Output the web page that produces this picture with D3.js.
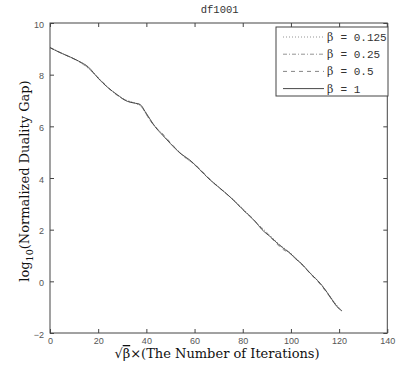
<!DOCTYPE html>
<html><head><meta charset="utf-8">
<script src="https://cdn.jsdelivr.net/npm/d3@7"></script>
<style>body{margin:0;background:#fff}svg{display:block}</style>
</head><body>
<svg id="c" width="398" height="372"></svg>
<script>
const title = "df1001";
const xTicks = [0,20,40,60,80,100,120,140];
const yTicks = [-2,0,2,4,6,8,10];
const legendLabels = ["0.125","0.25","0.5","1"];

const it0125 = [0,5,10,15,20,25,30,35,38,40,42,45,50,55,60,65,70,75,80,85,90,95,100,105,110,115,118,121];
const gap0125 = [9.05,8.83,8.61,8.35,7.88,7.43,7.08,6.91,6.75,6.50,6.20,5.85,5.35,4.90,4.54,4.07,3.66,3.25,2.82,2.33,1.90,1.45,1.08,0.62,0.14,-0.42,-0.80,-1.12];
const it025 = [0,6,12,18,22,26,30,33,36,38,40,42,44,46,50,55,60,65,70,75,80,85,90,95,100,105,110,114,117,120];
const gap025 = [9.05,8.78,8.51,8.07,7.70,7.35,7.08,6.95,6.88,6.76,6.46,6.17,5.94,5.78,5.34,4.88,4.51,4.05,3.65,3.24,2.80,2.34,1.87,1.43,1.07,0.60,0.12,-0.30,-0.72,-1.05];
const it05 = [0,5,10,15,20,25,30,34,37,39,41,43,45,48,52,56,60,64,68,72,76,80,84,88,92,96,100,104,108,112,116,119,121.5];
const gap05 = [9.04,8.82,8.60,8.33,7.87,7.42,7.07,6.92,6.86,6.62,6.31,6.05,5.86,5.58,5.16,4.80,4.53,4.18,3.80,3.48,3.16,2.77,2.45,2.02,1.66,1.28,1.05,0.70,0.30,-0.10,-0.58,-0.95,-1.18];
const it1 = [0,4,8,12,16,20,24,28,32,35,37.5,39.5,41.5,43.6,47,50,54,58,62,66.5,70.6,74,78.9,82,85.2,88,91.4,95,98,100,101.8,104,108,112.2,116.3,119.1,121.2];
const gap1 = [9.05,8.86,8.70,8.52,8.29,7.86,7.50,7.22,6.97,6.90,6.84,6.57,6.28,5.99,5.63,5.33,4.96,4.70,4.34,3.92,3.60,3.33,2.89,2.60,2.31,2.00,1.73,1.42,1.20,1.06,0.88,0.72,0.31,-0.08,-0.60,-0.98,-1.15];

const series = [
  {label: legendLabels[0], xs: it0125, ys: gap0125, dash: "1,2", color: "#888"},
  {label: legendLabels[1], xs: it025, ys: gap025, dash: "4,2,1,2", color: "#888"},
  {label: legendLabels[2], xs: it05, ys: gap05, dash: "4,4", color: "#777"},
  {label: legendLabels[3], xs: it1, ys: gap1, dash: null, color: "#333"}
];

const L = 50, R = 387.3, T = 23, B = 333;
const svg = d3.select("#c");
const x = d3.scaleLinear().domain([0,140]).range([L,R]);
const y = d3.scaleLinear().domain([-2,10]).range([B,T]);
const axisColor = "#444";

svg.append("rect").attr("x",L).attr("y",T).attr("width",R-L).attr("height",B-T)
  .attr("fill","none").attr("stroke",axisColor).attr("stroke-width",1);

const tickLen = 4;
const gx = svg.append("g").attr("transform",`translate(0,${B})`)
  .call(d3.axisBottom(x).tickValues(xTicks).tickSize(-tickLen).tickPadding(5).tickFormat(d3.format("d")));
const gxt = svg.append("g").attr("transform",`translate(0,${T})`)
  .call(d3.axisTop(x).tickValues(xTicks).tickSize(-tickLen).tickFormat(""));
const gy = svg.append("g").attr("transform",`translate(${L},0)`)
  .call(d3.axisLeft(y).tickValues(yTicks).tickSize(-tickLen).tickPadding(6).tickFormat(d => d < 0 ? "\u2212" + Math.abs(d) : d));
const gyr = svg.append("g").attr("transform",`translate(${R},0)`)
  .call(d3.axisRight(y).tickValues(yTicks).tickSize(-tickLen).tickFormat(""));
[gx,gxt,gy,gyr].forEach(g => {
  g.select(".domain").remove();
  g.selectAll(".tick line").attr("stroke",axisColor);
  g.selectAll("text").attr("fill","#555").attr("font-family","Liberation Sans, Arial, sans-serif").attr("font-size","9px");
});
gy.selectAll(".tick text").attr("dy","0.45em");

const line = d3.line().x(d => x(d[0])).y(d => y(d[1])).curve(d3.curveMonotoneX);
series.forEach(s => {
  const pts = s.xs.map((v,i) => [v, s.ys[i]]);
  svg.append("path").attr("d", line(pts)).attr("fill","none")
    .attr("stroke", s.color).attr("stroke-width", 0.8)
    .attr("stroke-dasharray", s.dash);
});

svg.append("text").attr("x",(L+R)/2+1).attr("y",13).attr("text-anchor","middle")
  .attr("font-family","Liberation Mono, Courier New, monospace").attr("font-size","10.5px").attr("fill","#333")
  .text(title);

const lg = svg.append("g");
lg.append("rect").attr("x",276).attr("y",27).attr("width",112).attr("height",69)
  .attr("fill","#fff").attr("stroke",axisColor).attr("stroke-width",1);
series.forEach((s,i) => {
  const yy = 37 + i*17.2;
  lg.append("line").attr("x1",283).attr("x2",324).attr("y1",yy).attr("y2",yy)
    .attr("stroke",s.color).attr("stroke-width",0.9).attr("stroke-dasharray", s.dash);
  const t = lg.append("text").attr("x",327).attr("y",yy+4)
    .attr("font-family","Liberation Mono, Courier New, monospace").attr("font-size","11px").attr("fill","#333");
  t.append("tspan").attr("font-family","DejaVu Serif, serif").attr("font-size","11px").text("\u03b2");
  t.append("tspan").attr("x",340.5).text("= " + s.label);
});

const xl = svg.append("text").attr("x",217).attr("y",358).attr("text-anchor","middle")
  .attr("font-family","DejaVu Serif, serif").attr("font-size","13px").attr("fill","#111");
xl.append("tspan").text("\u221a");
xl.append("tspan").attr("text-decoration","overline").text("\u03b2");
xl.append("tspan").text("\u00d7(The Number of Iterations)");

const yl = svg.append("text").attr("transform","translate(29,181) rotate(-90)").attr("text-anchor","middle")
  .attr("font-family","DejaVu Serif, serif").attr("font-size","13px").attr("fill","#111");
yl.append("tspan").text("log");
yl.append("tspan").attr("font-size","9.5px").attr("dy","4").text("10");
yl.append("tspan").attr("dy","-4").text("(Normalized Duality Gap)");
</script>
</body></html>
